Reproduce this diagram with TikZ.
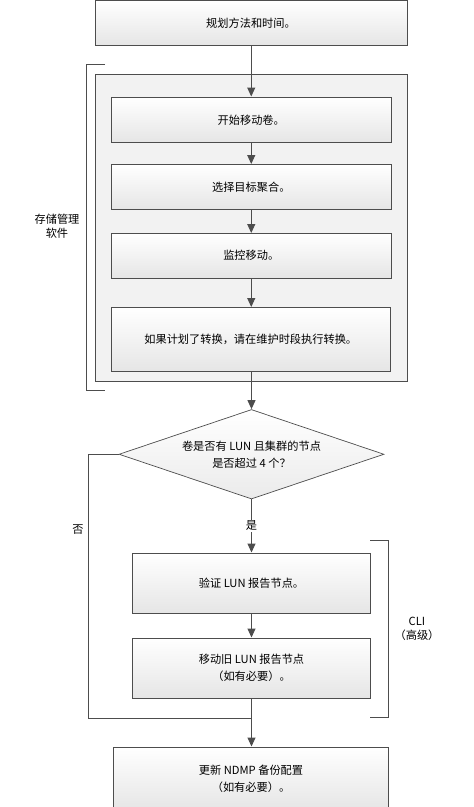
\documentclass[tikz,border=0pt]{standalone}
\usepackage{fontspec}
\setmainfont{Noto Sans CJK SC}
\usetikzlibrary{shapes.geometric,arrows.meta}
\definecolor{linegray}{HTML}{4D4D4D}
\begin{document}
\begin{tikzpicture}[x=1pt,y=-1pt,
  every node/.style={font=\fontsize{11.2}{17}\selectfont, text=black},
  stepbox/.style={draw=linegray, line width=1pt, rectangle, top color=white, bottom color=black!10, inner sep=0pt, align=center},
  groupbox/.style={draw=linegray, line width=1pt, fill=black!5, rectangle, inner sep=0pt},
  decision/.style={diamond, shape aspect=2.96, draw=linegray, line width=0.7pt, top color=white, bottom color=black!8, inner sep=0pt, align=center},
  conn/.style={draw=linegray, line width=1pt},
  arr/.style={conn, -{Triangle[width=8pt,length=9pt]}},
  bracket/.style={draw=linegray, line width=1pt},
  lbl/.style={align=center, inner sep=1pt, font=\fontsize{11.2}{14}\selectfont}
]
\useasboundingbox (0,0) rectangle (474,807);
\clip (0,0) rectangle (474,807);

\node[stepbox, minimum width=312pt, minimum height=44.5pt] (plan) at (251,22.75) {规划方法和时间。};

\node[groupbox, minimum width=311.5pt, minimum height=306.5pt] (grp) at (251.25,227.75) {};

\node[stepbox, minimum width=280.5pt, minimum height=45.5pt] (b1) at (251.25,119.75) {开始移动卷。};
\node[stepbox, minimum width=280.5pt, minimum height=45pt] (b2) at (251.25,187) {选择目标聚合。};
\node[stepbox, minimum width=280.5pt, minimum height=44.5pt] (b3) at (251.25,255.75) {监控移动。};
\node[stepbox, minimum width=279.5pt, minimum height=63.5pt] (b4) at (250.75,339.25) {如果计划了转换，请在维护时段执行转换。};

\node[decision, minimum width=265pt, minimum height=89.5pt] (dec) at (251.5,454.25) {卷是否有 LUN 且集群的节点\\是否超过 4 个？};

\node[stepbox, minimum width=238pt, minimum height=60pt] (b5) at (251.5,583) {验证 LUN 报告节点。};
\node[stepbox, minimum width=238pt, minimum height=60pt] (b6) at (251.5,668) {移动旧 LUN 报告节点\\（如有必要）。};
\node[stepbox, minimum width=275pt, minimum height=63pt] (b7) at (251,778.5) {更新 NDMP 备份配置\\（如有必要）。};

% brackets and their labels
\draw[bracket] (105,64.5) -| (86.5,390) -- (105,390);
\node[lbl] (swlbl) at (57,226.5) {存储管理\\软件};
\draw[bracket] (370,540.5) -| (388.5,717) -- (370,717);
\node[lbl] (clilbl) at (417,628.5) {CLI\\（高级）};

% connectors
\draw[arr] (plan.south) -- (plan.south -| b1.north) -- (b1.north);
\draw[arr] (b1.south) -- (b2.north);
\draw[arr] (b2.south) -- (b3.north);
\draw[arr] (b3.south) -- (b3.south |- b4.north);
\draw[arr] (b4.south -| dec.north) -- (dec.north);
\draw[arr] (dec.south) -- node[lbl, fill=white] (yes) {是} (dec.south |- b5.north);
\draw[arr] (b5.south) -- (b6.north);
\coordinate (mrg) at (251.5,718);
\draw[conn] (dec.west) -- ++(-30.5,0) |- (mrg);
\node[lbl] (nolbl) at (78,530) {否};
\draw[arr] (b6.south) -- (b6.south |- b7.north);
\end{tikzpicture}
\end{document}
